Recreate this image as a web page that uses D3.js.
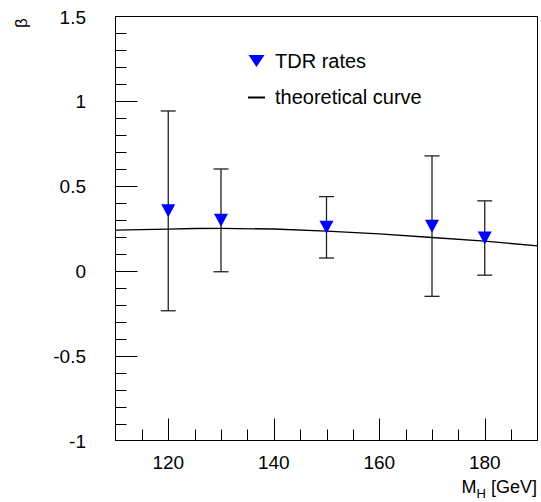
<!DOCTYPE html>
<html>
<head>
<meta charset="utf-8">
<script src="https://cdn.jsdelivr.net/npm/d3@7"></script>
<style>
  body { margin: 0; background: #fff; }
  text { font-family: "Liberation Sans", Arial, Helvetica, sans-serif; }
</style>
</head>
<body>
<script>
var W = 541, H = 502;

// measured points (TDR rates) with symmetric errors
var massPoints = [120, 130, 150, 170, 180];
var betaValues = [0.354, 0.298, 0.257, 0.264, 0.194];
var betaErrors = [0.589, 0.303, 0.181, 0.414, 0.219];

// theoretical curve
var curveMass = [110, 115, 120, 125, 130, 140, 150, 160, 170, 180, 190];
var curveBeta = [0.240, 0.243, 0.246, 0.250, 0.251, 0.247, 0.235, 0.218, 0.197, 0.175, 0.148];

var xMajor = [120, 140, 160, 180];
var yMajor = [-1, -0.5, 0, 0.5, 1, 1.5];
var yLabels = ["-1", "-0.5", "0", "0.5", "1", "1.5"];

var pl = 115.5, pr = 537.5, pt = 16.5, pb = 440.5;

var svg = d3.select("body").append("svg").attr("width", W).attr("height", H);

var x = d3.scaleLinear().domain([110, 190]).range([pl, pr]);
var y = d3.scaleLinear().domain([-1, 1.5]).range([pb, pt]);

// frame
svg.append("rect")
    .attr("x", pl).attr("y", pt)
    .attr("width", pr - pl).attr("height", pb - pt)
    .attr("fill", "none").attr("stroke", "#000").attr("stroke-width", 1);

// x ticks
var xTicks = d3.range(115, 190, 5);
svg.selectAll("line.xt").data(xTicks).enter().append("line")
    .attr("class", "xt")
    .attr("x1", function(d){ return Math.round(x(d)) + 0.5; })
    .attr("x2", function(d){ return Math.round(x(d)) + 0.5; })
    .attr("y1", pb)
    .attr("y2", function(d){ return d % 20 == 0 ? pb - 22 : pb - 11; })
    .attr("stroke", "#000");

svg.selectAll("text.xl").data(xMajor).enter().append("text")
    .attr("class", "xl")
    .attr("x", function(d){ return x(d); })
    .attr("y", 469)
    .attr("text-anchor", "middle")
    .attr("font-size", 19)
    .text(function(d){ return d; });

// y ticks
var yTicks = d3.range(-9, 15).map(function(i){ return i / 10; });
svg.selectAll("line.yt").data(yTicks).enter().append("line")
    .attr("class", "yt")
    .attr("x1", pl)
    .attr("x2", function(d){ return Math.abs(d * 2 - Math.round(d * 2)) < 1e-6 ? pl + 22 : pl + 11; })
    .attr("y1", function(d){ return Math.round(y(d)) + 0.5; })
    .attr("y2", function(d){ return Math.round(y(d)) + 0.5; })
    .attr("stroke", "#000");

svg.selectAll("text.yl").data(yMajor).enter().append("text")
    .attr("class", "yl")
    .attr("x", 86)
    .attr("y", function(d){ return y(d) + 7; })
    .attr("text-anchor", "end")
    .attr("font-size", 19)
    .text(function(d, i){ return yLabels[i]; });

// axis titles
svg.append("text")
    .attr("transform", "translate(27,23) rotate(-90)")
    .attr("text-anchor", "middle")
    .attr("font-size", 17)
    .text("β");

var xt = svg.append("text")
    .attr("x", 537)
    .attr("y", 493)
    .attr("text-anchor", "end")
    .attr("font-size", 18);
xt.append("tspan").text("M");
xt.append("tspan").attr("font-size", 13).attr("dy", 5).text("H");
xt.append("tspan").attr("dy", -5).text(" [GeV]");

// theoretical curve
var line = d3.line()
    .x(function(d, i){ return x(curveMass[i]); })
    .y(function(d){ return y(d); });
svg.append("path")
    .attr("d", line(curveBeta))
    .attr("fill", "none")
    .attr("stroke", "#000")
    .attr("stroke-width", 1.3);

// error bars
var pts = massPoints.map(function(m, i){ return {m: m, b: betaValues[i], e: betaErrors[i]}; });
var eb = svg.selectAll("g.eb").data(pts).enter().append("g").attr("class", "eb");
eb.append("line")
    .attr("x1", function(d){ return x(d.m); }).attr("x2", function(d){ return x(d.m); })
    .attr("y1", function(d){ return y(d.b + d.e); }).attr("y2", function(d){ return y(d.b - d.e); })
    .attr("stroke", "#222").attr("stroke-width", 1.3);
eb.append("line")
    .attr("x1", function(d){ return x(d.m) - 7.5; }).attr("x2", function(d){ return x(d.m) + 7.5; })
    .attr("y1", function(d){ return y(d.b + d.e); }).attr("y2", function(d){ return y(d.b + d.e); })
    .attr("stroke", "#222").attr("stroke-width", 1.3);
eb.append("line")
    .attr("x1", function(d){ return x(d.m) - 7.5; }).attr("x2", function(d){ return x(d.m) + 7.5; })
    .attr("y1", function(d){ return y(d.b - d.e); }).attr("y2", function(d){ return y(d.b - d.e); })
    .attr("stroke", "#222").attr("stroke-width", 1.3);

// markers
var tri = function(cx, cy, w, h) {
    return "M" + (cx - w / 2) + "," + (cy - h / 2) + "L" + (cx + w / 2) + "," + (cy - h / 2) + "L" + cx + "," + (cy + h / 2) + "Z";
};
svg.selectAll("path.mk").data(pts).enter().append("path")
    .attr("class", "mk")
    .attr("d", function(d){ return tri(x(d.m), y(d.b), 14, 13); })
    .attr("fill", "#0000ff");

// legend
svg.append("path").attr("d", tri(256.5, 61, 16, 12)).attr("fill", "#0000ff");
svg.append("text").attr("x", 275).attr("y", 68).attr("font-size", 20).text("TDR rates");
svg.append("line").attr("x1", 248).attr("x2", 265).attr("y1", 97.5).attr("y2", 97.5)
    .attr("stroke", "#000").attr("stroke-width", 2);
svg.append("text").attr("x", 275).attr("y", 104).attr("font-size", 20).text("theoretical curve");
</script>
</body>
</html>
